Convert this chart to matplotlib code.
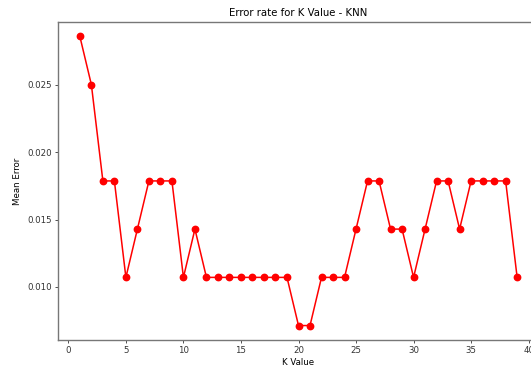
import matplotlib
matplotlib.use("Agg")
import matplotlib.pyplot as plt

# K values tried and the mean misclassification rate for each
k_values = list(range(1, 40))
mean_error = [
    0.02857, 0.02500, 0.01786, 0.01786, 0.01071, 0.01429, 0.01786, 0.01786,
    0.01786, 0.01071, 0.01429, 0.01071, 0.01071, 0.01071, 0.01071, 0.01071,
    0.01071, 0.01071, 0.01071, 0.00714, 0.00714, 0.01071, 0.01071, 0.01071,
    0.01429, 0.01786, 0.01786, 0.01429, 0.01429, 0.01071, 0.01429, 0.01786,
    0.01786, 0.01429, 0.01786, 0.01786, 0.01786, 0.01786, 0.01071,
]
x_ticks = [0, 5, 10, 15, 20, 25, 30, 35, 40]
y_ticks = [0.010, 0.015, 0.020, 0.025]

fig = plt.figure(figsize=(5.31, 3.66), dpi=100)
ax = fig.add_axes([58 / 531, 26 / 366, 481 / 531, 318 / 366])

ax.plot(k_values, mean_error, color="red", marker="o", markersize=4.6,
        linewidth=1.1)

ax.set_xticks(x_ticks)
ax.set_yticks(y_ticks)
ax.set_yticklabels([f"{v:.3f}" for v in y_ticks])

ax.set_title("Error rate for K Value - KNN", fontsize=7.3, pad=4)
ax.set_xlabel("K Value", fontsize=6.2, labelpad=2)
ax.set_ylabel("Mean Error", fontsize=6.2, labelpad=4)
ax.tick_params(labelsize=6.2, length=2.2, width=0.6, pad=2, colors="#333333")

for side in ("left", "bottom", "top", "right"):
    ax.spines[side].set_color("#777777")
    ax.spines[side].set_linewidth(1.0)

fig.savefig("out.png", dpi=100)
